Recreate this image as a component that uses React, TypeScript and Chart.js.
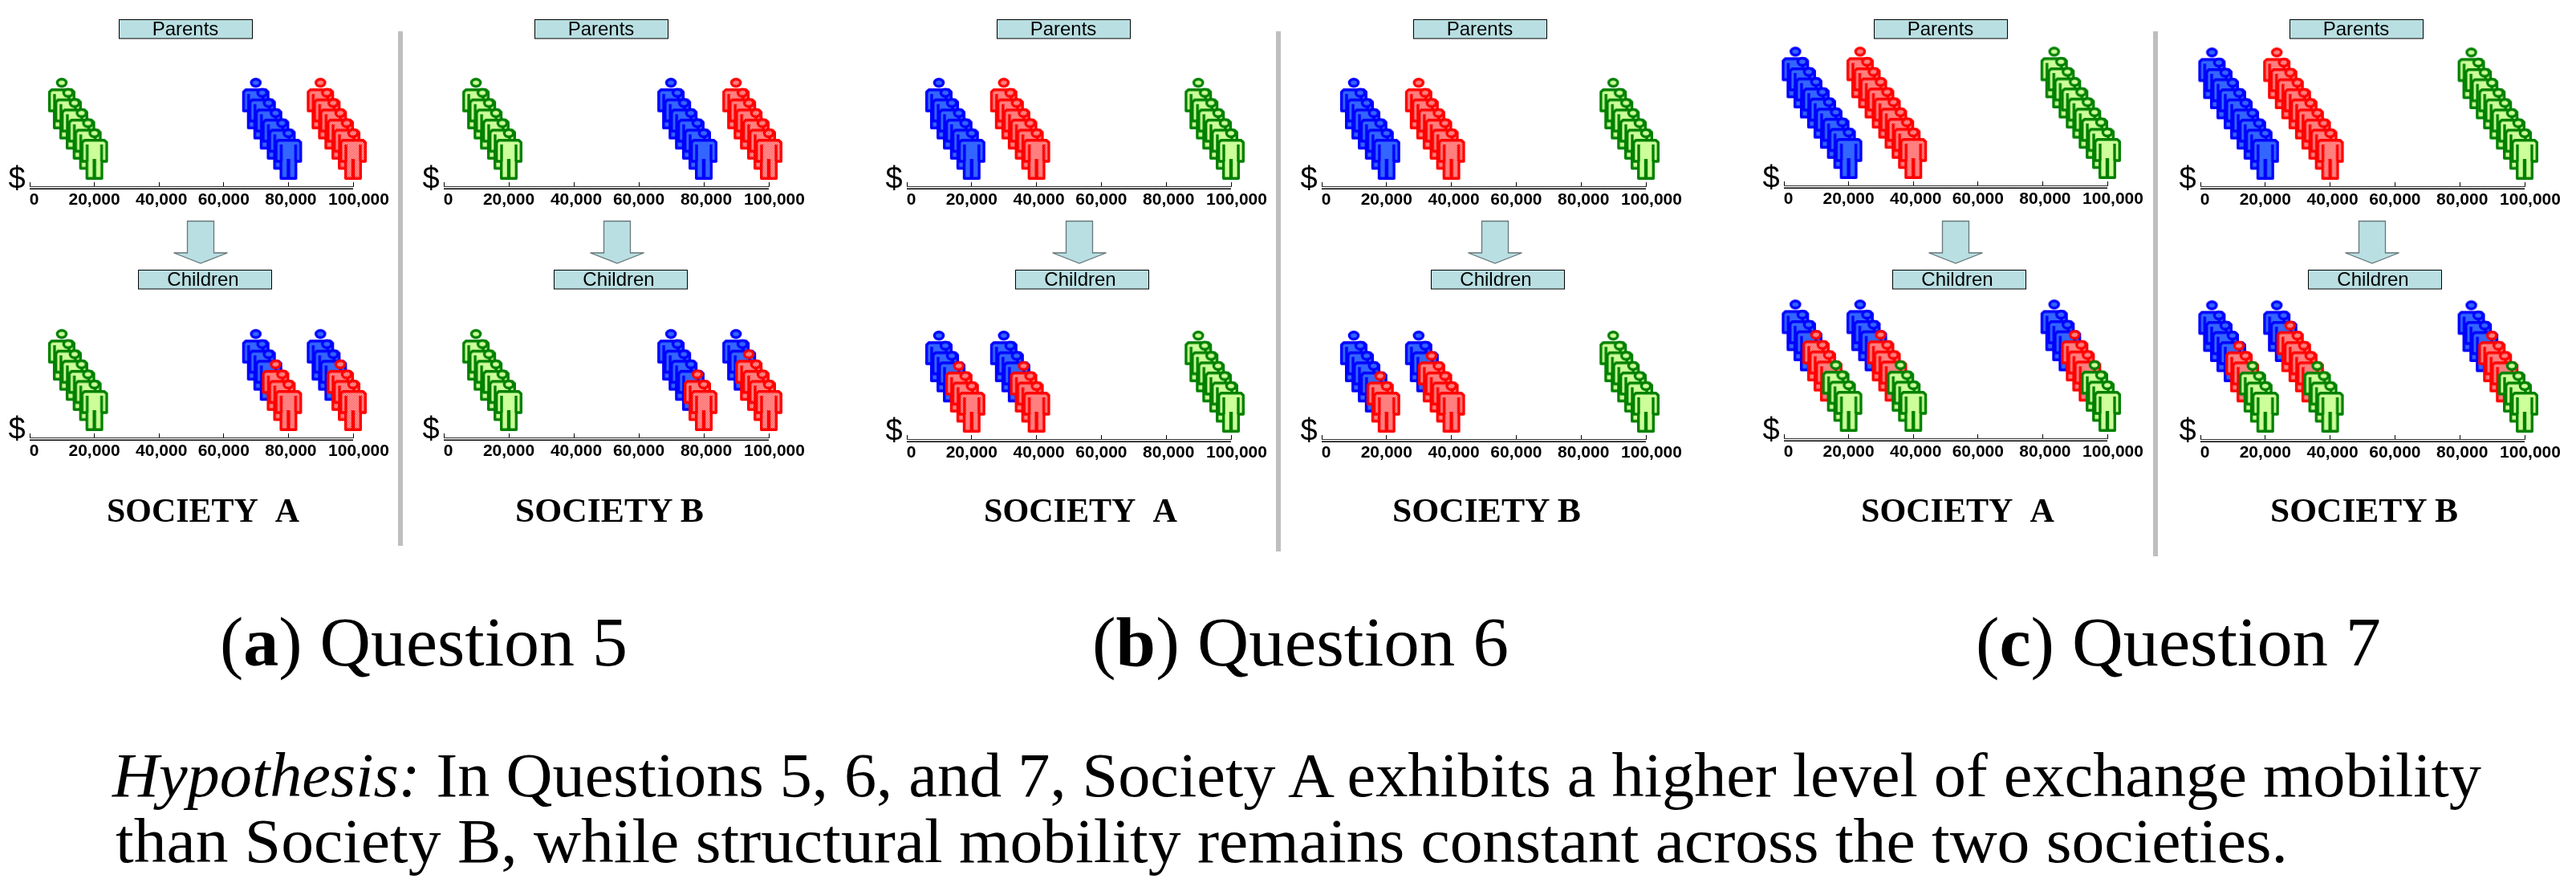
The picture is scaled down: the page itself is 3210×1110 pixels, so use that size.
import React, { useEffect, useRef } from "react";
import { Chart, registerables } from "chart.js";

Chart.register(...registerables);

// ---- axis ----
const xTicks = [0, 20000, 40000, 60000, 80000, 100000];
const xTickLabels = ["0", "20,000", "40,000", "60,000", "80,000", "100,000"];
const labelNudge = [5.5, 0, 3, 0, 3, 7];
// dollars behind the front person, per rank in a stack (0 = front)
const stackOffsets = [0, 1985, 3970, 6130, 8110, 10100, 12330, 14320, 16450];

// ---- people: [front income, colours from back of the stack to the front] ----
const q5ParentsA = [[20000, "GGGGGG"], [80000, "BBBBBB"], [100000, "RRRRRR"]];
const q5ChildrenA = [[20000, "GGGGGG"], [80000, "BBBRRR"], [100000, "BBBRRR"]];
const q5ParentsB = [[20000, "GGGGGG"], [80000, "BBBBBB"], [100000, "RRRRRR"]];
const q5ChildrenB = [[20000, "GGGGGG"], [80000, "BBBBRR"], [100000, "BBRRRR"]];
const q6ParentsA = [[20000, "BBBBBB"], [40000, "RRRRRR"], [100000, "GGGGGG"]];
const q6ChildrenA = [[20000, "BBBRRR"], [40000, "BBBRRR"], [100000, "GGGGGG"]];
const q6ParentsB = [[20000, "BBBBBB"], [40000, "RRRRRR"], [100000, "GGGGGG"]];
const q6ChildrenB = [[20000, "BBBBRR"], [40000, "BBRRRR"], [100000, "GGGGGG"]];
const q7ParentsA = [[20000, "BBBBBBBBB"], [40000, "RRRRRRRRR"], [100000, "GGGGGGGGG"]];
const q7ChildrenA = [[20000, "BBBRRRGGG"], [40000, "BBBRRRGGG"], [100000, "BBBRRRGGG"]];
const q7ParentsB = [[20000, "BBBBBBBBB"], [40000, "RRRRRRRRR"], [100000, "GGGGGGGGG"]];
const q7ChildrenB = [[20000, "BBBBRRGGG"], [40000, "BBRRRRGGG"], [100000, "BBBRRRGGG"]];

// ---- text ----
const captionRows = [
  { letter: "a", rest: " Question 5", x: 274, w: 508 },
  { letter: "b", rest: " Question 6", x: 1361, w: 519 },
  { letter: "c", rest: " Question 7", x: 2462, w: 505 },
];
const hypothesisLead = "Hypothesis:";
const hypothesisLine1 = " In Questions 5, 6, and 7, Society A exhibits a higher level of exchange mobility";
const hypothesisLine2 = "than Society B, while structural mobility remains constant across the two societies.";

// ---- layout of the six societies ----
const societies = [
  { name: "SOCIETY\u00A0\u00A0A", x0: 37, x1: 440, parents: q5ParentsA, children: q5ChildrenA, axisP: 232, axisC: 545, pBox: 148, cBox: 172, arrow: 250, tx: 133, tw: 240 },
  { name: "SOCIETY B", x0: 553, x1: 958, parents: q5ParentsB, children: q5ChildrenB, axisP: 232, axisC: 545, pBox: 666, cBox: 690, arrow: 769, tx: 642, tw: 235 },
  { name: "SOCIETY\u00A0\u00A0A", x0: 1130, x1: 1534, parents: q6ParentsA, children: q6ChildrenA, axisP: 232, axisC: 547, pBox: 1242, cBox: 1265, arrow: 1345, tx: 1226, tw: 241 },
  { name: "SOCIETY B", x0: 1647, x1: 2051, parents: q6ParentsB, children: q6ChildrenB, axisP: 232, axisC: 547, pBox: 1761, cBox: 1783, arrow: 1863, tx: 1735, tw: 235 },
  { name: "SOCIETY\u00A0\u00A0A", x0: 2223, x1: 2626, parents: q7ParentsA, children: q7ChildrenA, axisP: 231, axisC: 546, pBox: 2335, cBox: 2358, arrow: 2437, tx: 2319, tw: 241 },
  { name: "SOCIETY B", x0: 2742, x1: 3146, parents: q7ParentsB, children: q7ChildrenB, axisP: 232, axisC: 547, pBox: 2853, cBox: 2876, arrow: 2956, tx: 2829, tw: 234 },
];
const separators = [
  { x: 496, y2: 680 },
  { x: 1590, y2: 687 },
  { x: 2683, y2: 693 },
];

const BOX = "#B9DFE2";
const AREA_H = 180;
const AXIS_H = 34;
const PAD_L = 40;
const PAD_R = 90;
const ROW_PX = 12.58;
const FRONT_CENTER_PX = 40;

const personStyles: Record<string, { stroke: string; fill: string | null; label: string }> = {
  G: { stroke: "#008000", fill: "#CCFF99", label: "Green" },
  R: { stroke: "#FF0000", fill: null, label: "Red" },
  B: { stroke: "#0000FF", fill: "#3366FF", label: "Blue" },
};

function makePerson(kind: string) {
  const st = personStyles[kind];
  const c = document.createElement("canvas");
  c.width = 36;
  c.height = 66;
  const g = c.getContext("2d")!;
  let fill: any = st.fill;
  if (!fill) {
    const p = document.createElement("canvas");
    p.width = 2;
    p.height = 2;
    const pg = p.getContext("2d")!;
    pg.fillStyle = "#fff";
    pg.fillRect(0, 0, 2, 2);
    pg.fillStyle = "#FF0000";
    pg.fillRect(0, 0, 1, 1);
    pg.fillRect(1, 1, 1, 1);
    fill = g.createPattern(p, "repeat");
  }
  g.translate(1, 1);
  g.lineJoin = "round";
  g.lineWidth = 3.4;
  g.strokeStyle = st.stroke;
  g.fillStyle = fill;
  // head
  g.beginPath();
  g.ellipse(17, 6, 5.6, 4.5, 0, 0, Math.PI * 2);
  g.fill();
  g.stroke();
  // body
  g.beginPath();
  g.moveTo(4.5, 14.7);
  g.lineTo(29.5, 14.7);
  g.lineTo(32.3, 17.5);
  g.lineTo(32.3, 41);
  g.lineTo(26.3, 41);
  g.lineTo(26.3, 62.3);
  g.lineTo(7.7, 62.3);
  g.lineTo(7.7, 41);
  g.lineTo(1.7, 41);
  g.lineTo(1.7, 17.5);
  g.closePath();
  g.fill();
  g.stroke();
  // slits between arms and torso, and between the legs
  g.lineWidth = 3.4;
  g.beginPath();
  g.moveTo(8, 20);
  g.lineTo(8, 41);
  g.moveTo(26, 20);
  g.lineTo(26, 41);
  g.stroke();
  g.lineWidth = 4.4;
  g.beginPath();
  g.moveTo(17, 38);
  g.lineTo(17, 63);
  g.stroke();
  return c;
}

function buildDatasets(columns: any[], sprites: Record<string, HTMLCanvasElement>) {
  // first dataset is painted last, so green lies over red, and red over blue
  return ["G", "R", "B"].map((kind) => {
    const data: { x: number; y: number }[] = [];
    columns.forEach(([income, people]: [number, string]) => {
      people.split("").forEach((p, i) => {
        const rank = people.length - 1 - i;
        if (p === kind) data.push({ x: income - stackOffsets[rank], y: rank });
      });
    });
    data.sort((a, b) => b.y - a.y);
    return {
      label: personStyles[kind].label,
      data,
      pointStyle: sprites[kind] as any,
      pointRadius: 3,
      showLine: false,
      clip: false as any,
    };
  });
}

const axisPlugin = {
  id: "doubleRule",
  beforeDraw(chart: any) {
    const s = chart.scales.x;
    if (!chart.$nudged) {
      s.getLabelItems().forEach((it: any, i: number) => {
        it.options.translation[0] += labelNudge[i] || 0;
      });
      chart.$nudged = true;
    }
  },
  afterDraw(chart: any) {
    const s = chart.scales.x;
    const g = chart.ctx;
    g.save();
    g.strokeStyle = "#000";
    g.lineWidth = 1.5;
    g.beginPath();
    g.moveTo(s.left, s.top + 3.25);
    g.lineTo(s.right, s.top + 3.25);
    g.stroke();
    g.restore();
  },
};

function Panel({ x0, x1, axisY, columns }: { x0: number; x1: number; axisY: number; columns: any[] }) {
  const ref = useRef<HTMLCanvasElement>(null);
  useEffect(() => {
    const sprites = { G: makePerson("G"), R: makePerson("R"), B: makePerson("B") };
    const chart = new Chart(ref.current!, {
      type: "scatter",
      data: { datasets: buildDatasets(columns, sprites) as any },
      plugins: [axisPlugin],
      options: {
        animation: false,
        responsive: false,
        events: [],
        layout: { autoPadding: false, padding: { left: PAD_L, right: PAD_R, top: 0, bottom: 0 } },
        plugins: { legend: { display: false }, tooltip: { enabled: false }, title: { display: false } },
        scales: {
          x: {
            type: "linear",
            min: 0,
            max: 100000,
            afterBuildTicks(scale: any) {
              scale.ticks = xTicks.map((value) => ({ value }));
            },
            afterFit(scale: any) {
              scale.height = AXIS_H;
            },
            grid: { drawOnChartArea: false, drawTicks: true, tickLength: -5, tickColor: "#000", tickWidth: 1 },
            border: { display: true, color: "#333", width: 1 },
            ticks: {
              autoSkip: false,
              maxRotation: 0,
              minRotation: 0,
              padding: 10,
              color: "#000",
              font: { family: "'Liberation Sans', Arial, sans-serif", size: 21, weight: "bold" },
              callback: (v: any) => xTickLabels[xTicks.indexOf(Number(v))],
            },
          },
          y: {
            type: "linear",
            display: false,
            min: -FRONT_CENTER_PX / ROW_PX,
            max: (AREA_H - FRONT_CENTER_PX) / ROW_PX,
          },
        },
      } as any,
    });
    return () => chart.destroy();
  }, []);
  return (
    <canvas
      ref={ref}
      width={x1 - x0 + PAD_L + PAD_R}
      height={AREA_H + AXIS_H}
      style={{ position: "absolute", left: x0 - PAD_L, top: axisY - AREA_H, display: "block" }}
    />
  );
}

const sans = "'Liberation Sans', Arial, sans-serif";
const serif = "'Liberation Serif', 'Times New Roman', serif";

function LabelBox({ x, y, text, tx }: { x: number; y: number; text: string; tx: number }) {
  return (
    <g>
      <rect x={x + 0.5} y={y + 0.5} width={166} height={23.5} fill={BOX} stroke="#000" strokeWidth={1} />
      <text x={tx} y={y + 19.5} textAnchor="middle" fontFamily={sans} fontSize={24} fill="#000">
        {text}
      </text>
    </g>
  );
}

function Overlay() {
  return (
    <svg width={3210} height={1110} style={{ position: "absolute", left: 0, top: 0, pointerEvents: "none" }}>
      {separators.map((s) => (
        <rect key={s.x} x={s.x} y={39} width={6} height={s.y2 - 39} fill="#BFBFBF" />
      ))}
      {societies.map((s, i) => (
        <g key={i}>
          <LabelBox x={s.pBox} y={24} text="Parents" tx={s.pBox + 83} />
          <LabelBox x={s.cBox} y={336} text="Children" tx={s.cBox + 81} />
          <polygon
            points={`${s.arrow - 16.5},275.5 ${s.arrow + 16.5},275.5 ${s.arrow + 16.5},315 ${s.arrow + 33.5},315 ${s.arrow},328 ${s.arrow - 33.5},315 ${s.arrow - 16.5},315`}
            fill={BOX}
            stroke="#66777A"
            strokeWidth={1.3}
          />
          <text x={s.x0 - 16} y={s.axisP + 3} textAnchor="middle" fontFamily={sans} fontSize={38}>$</text>
          <text x={s.x0 - 16} y={s.axisC + 2} textAnchor="middle" fontFamily={sans} fontSize={38}>$</text>
          <text x={s.tx} y={650} fontFamily={serif} fontWeight="bold" fontSize={42} textLength={s.tw} lengthAdjust="spacingAndGlyphs">
            {s.name}
          </text>
        </g>
      ))}
      {captionRows.map((c) => (
        <text key={c.letter} x={c.x} y={829} fontFamily={serif} fontSize={86} textLength={c.w} lengthAdjust="spacingAndGlyphs">
          (<tspan fontWeight="bold">{c.letter}</tspan>){c.rest}
        </text>
      ))}
      <text x={140} y={992} fontFamily={serif} fontSize={78} textLength={2952} lengthAdjust="spacingAndGlyphs" xmlSpace="preserve">
        <tspan fontStyle="italic">{hypothesisLead}</tspan>
        {hypothesisLine1}
      </text>
      <text x={144} y={1074} fontFamily={serif} fontSize={78} textLength={2707} lengthAdjust="spacingAndGlyphs">
        {hypothesisLine2}
      </text>
    </svg>
  );
}

export default function App() {
  return (
    <div style={{ position: "absolute", left: 0, top: 0, width: 3210, height: 1110, background: "#fff", overflow: "hidden" }}>
      {societies.map((s, i) => (
        <React.Fragment key={i}>
          <Panel x0={s.x0} x1={s.x1} axisY={s.axisP} columns={s.parents} />
          <Panel x0={s.x0} x1={s.x1} axisY={s.axisC} columns={s.children} />
        </React.Fragment>
      ))}
      <Overlay />
    </div>
  );
}
